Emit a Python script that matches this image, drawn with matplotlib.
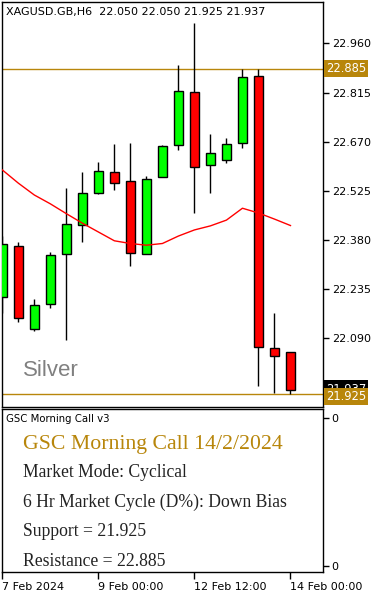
import matplotlib
matplotlib.use("Agg")
import matplotlib.pyplot as plt
import matplotlib.transforms as mtransforms

# ---- data ----
opens  = [22.211, 22.362, 22.117, 22.191, 22.338, 22.425, 22.518, 22.580, 22.553, 22.338,
          22.565, 22.660, 22.816, 22.600, 22.615, 22.665, 22.863, 22.061, 22.050]
highs  = [22.392, 22.374, 22.206, 22.345, 22.533, 22.581, 22.610, 22.663, 22.666, 22.568,
          22.659, 22.896, 23.019, 22.693, 22.681, 22.885, 22.885, 22.165, 22.050]
lows   = [22.164, 22.140, 22.113, 22.181, 22.086, 22.375, 22.516, 22.529, 22.305, 22.338,
          22.565, 22.645, 22.461, 22.520, 22.608, 22.652, 21.951, 21.930, 21.925]
closes = [22.368, 22.150, 22.188, 22.335, 22.427, 22.518, 22.583, 22.549, 22.341, 22.559,
          22.656, 22.819, 22.595, 22.636, 22.662, 22.860, 22.064, 22.038, 21.937]
ma     = [22.587, 22.548, 22.513, 22.487, 22.458, 22.430, 22.404, 22.378, 22.370, 22.365,
          22.370, 22.392, 22.410, 22.422, 22.439, 22.474, 22.460, 22.442, 22.423]
price_ticks = [22.090, 22.235, 22.380, 22.525, 22.670, 22.815, 22.960]
resistance = 22.885
support = 21.925
last_close = 21.937
x_tick_idx = [0, 6, 12, 18]
x_tick_labels = ["7 Feb 2024", "9 Feb 00:00", "12 Feb 12:00", "14 Feb 00:00"]
title_text = "XAGUSD.GB,H6  22.050 22.050 21.925 21.937"
panel_lines = ["Market Mode: Cyclical", "6 Hr Market Cycle (D%): Down Bias",
               "Support = 21.925", "Resistance = 22.885"]

GOLD = "#B8860B"
W, H = 379, 595
fig = plt.figure(figsize=(W / 100, H / 100), dpi=100)
fig.patch.set_facecolor("white")

def rect(l, t, r, b):
    return [l / W, 1 - b / H, (r - l) / W, (b - t) / H]

ax = fig.add_axes(rect(1.5, 2, 323.3, 407))
ax2 = fig.add_axes(rect(1.5, 409.3, 323.3, 572.3))

x = list(range(len(opens)))
# wicks
ax.vlines(x, lows, highs, color="black", lw=1.0, zorder=2)
# bodies
bottoms = [min(o, c) for o, c in zip(opens, closes)]
heights = [abs(c - o) for o, c in zip(opens, closes)]
colors = ["#00FF00" if c >= o else "#FF0000" for o, c in zip(opens, closes)]
ax.bar(x, heights, bottom=bottoms, width=0.6, color=colors, edgecolor="black",
       linewidth=1.0, zorder=3)
# moving average
ax.plot(x, ma, color="#FF0000", lw=1.0, zorder=4)
# support / resistance
ax.axhline(resistance, color=GOLD, lw=1.0, zorder=1)
ax.axhline(support, color=GOLD, lw=1.0, zorder=1)

ax.set_xlim(-0.05, 20.05)
ax.set_ylim(21.888, 23.082)
ax.set_xticks([])
ax.yaxis.tick_right()
ax.set_yticks(price_ticks)
ax.set_yticklabels([f"{v:.3f}" for v in price_ticks])
ax.tick_params(axis="y", direction="out", length=4, width=1, pad=2.5, labelsize=8)
for s in ax.spines.values():
    s.set_linewidth(1.0)

# price labels on right
trans = mtransforms.blended_transform_factory(ax.transAxes, ax.transData)
ax.text(1.008, last_close + 0.004, f"{last_close:.3f}", transform=trans, fontsize=8.3,
        color="white", va="center", ha="left", clip_on=False, zorder=5,
        bbox=dict(boxstyle="square,pad=0.18", fc="black", ec="none"))
ax.text(1.008, resistance, f"{resistance:.3f}", transform=trans, fontsize=8.3, color="white",
        va="center", ha="left", clip_on=False, zorder=6,
        bbox=dict(boxstyle="square,pad=0.18", fc=GOLD, ec="none"))
ax.text(1.008, support - 0.007, f"{support:.3f}", transform=trans, fontsize=8.3, color="white",
        va="center", ha="left", clip_on=False, zorder=6,
        bbox=dict(boxstyle="square,pad=0.18", fc=GOLD, ec="none"))

# Silver watermark
fig.text(23 / W, 1 - 371 / H, "Silver", fontsize=16, color="#808080",
         family="Liberation Sans", va="center", ha="left")
# title
fig.text(6 / W, 1 - 12 / H, title_text, fontsize=8.0, color="black", va="center", ha="left")

# lower panel
ax2.set_xlim(-0.05, 20.05)
ax2.set_ylim(0, 1)
ax2.set_xticks(x_tick_idx)
ax2.set_xticklabels(x_tick_labels, ha="left")
ax2.tick_params(axis="x", direction="out", length=5, width=1, pad=2, labelsize=8)
ax2.yaxis.tick_right()
ax2.set_yticks([0.04, 0.947])
ax2.set_yticklabels(["0", "0"])
ax2.tick_params(axis="y", direction="out", length=4, width=1, pad=2, labelsize=8)
for s in ax2.spines.values():
    s.set_linewidth(1.0)

fig.text(6 / W, 1 - 419 / H, "GSC Morning Call v3", fontsize=7.3, color="black",
         va="center", ha="left")
fig.text(22.7 / W, 1 - 445 / H, "GSC Morning Call 14/2/2024", fontsize=15.7, color=GOLD,
         family="Liberation Serif", va="center", ha="left")
line_ys = [472.3, 502.3, 531.7, 561.7]
for ty, txt in zip(line_ys, panel_lines):
    fig.text(22.7 / W, 1 - ty / H, txt, fontsize=12.7, color="#222222",
             family="Liberation Serif", va="center", ha="left")

fig.savefig("out.png", dpi=100)
